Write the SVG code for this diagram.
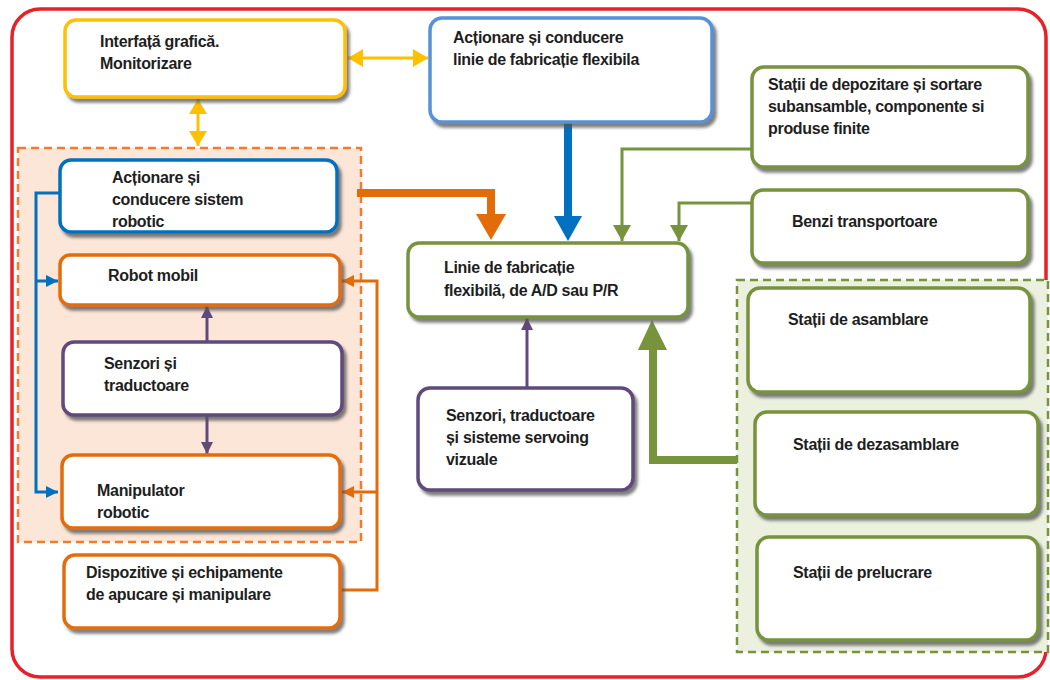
<svg xmlns="http://www.w3.org/2000/svg" width="1050" height="680" viewBox="0 0 1050 680">
  <defs>
    <filter id="shadow" x="-10%" y="-10%" width="130%" height="140%">
      <feDropShadow dx="3" dy="4" stdDeviation="1.6" flood-color="#555" flood-opacity="0.75"/>
    </filter>
    <marker id="ah-blue" markerUnits="userSpaceOnUse" markerWidth="14" markerHeight="12" refX="12" refY="6" orient="auto">
      <path d="M0,0 L12,6 L0,12 Z" fill="#0070C0"/>
    </marker>
    <marker id="ah-orange" markerUnits="userSpaceOnUse" markerWidth="14" markerHeight="12" refX="12" refY="6" orient="auto">
      <path d="M0,0 L12,6 L0,12 Z" fill="#E36C0A"/>
    </marker>
    <marker id="ah-purple" markerUnits="userSpaceOnUse" markerWidth="14" markerHeight="12" refX="12" refY="6" orient="auto">
      <path d="M0,0 L12,6 L0,12 Z" fill="#604A7B"/>
    </marker>
    <marker id="ah-green" markerUnits="userSpaceOnUse" markerWidth="18" markerHeight="18" refX="16" refY="9" orient="auto">
      <path d="M0,0 L16,9 L0,18 Z" fill="#77933C"/>
    </marker>
    <marker id="ah-yellow" markerUnits="userSpaceOnUse" markerWidth="18" markerHeight="18" refX="15" refY="9" orient="auto-start-reverse">
      <path d="M0,0 L15,9 L0,18 Z" fill="#FFC000"/>
    </marker>
    <style>
      .box { fill: #ffffff; stroke-width: 3.5; filter: url(#shadow); }
      .yellow { stroke: #FFC000; }
      .blue { stroke: #0070C0; }
      .lblue { stroke: #5592D8; }
      .orange { stroke: #E36C0A; }
      .purple { stroke: #604A7B; }
      .green { stroke: #77933C; }
      .lbl { font-family: "Liberation Sans", Arial, sans-serif; font-weight: bold; font-size: 16px; fill: #1e1e1e; letter-spacing: -0.3px; }
      .wire { fill: none; stroke-width: 3; }
      .thick { fill: none; stroke-width: 8; }
    </style>
  </defs>

  <rect width="1050" height="680" fill="#ffffff"/>

  <!-- outer frame -->
  <rect x="12" y="9" width="1034" height="668" rx="28" fill="none" stroke="#E8202A" stroke-width="3.5"/>

  <!-- group backgrounds -->
  <rect id="group-robot" x="18" y="148" width="343" height="394" fill="#FCE6D8" stroke="#EE7D31" stroke-width="2.5" stroke-dasharray="8,5"/>
  <rect id="group-statii" x="737" y="280" width="311" height="372" fill="#EBF1DE" stroke="#77933C" stroke-width="2.5" stroke-dasharray="8,5"/>

  <!-- connectors -->
  <g id="connectors">
    <path class="wire" stroke="#FFC000" stroke-width="3.5" d="M348,58 H428" marker-start="url(#ah-yellow)" marker-end="url(#ah-yellow)"/>
    <path class="wire" stroke="#FFC000" stroke-width="3.5" d="M198,99 V146" marker-start="url(#ah-yellow)" marker-end="url(#ah-yellow)"/>

    <path class="wire" stroke="#0070C0" d="M60,193 H36 V492 H58" marker-end="url(#ah-blue)"/>
    <path class="wire" stroke="#0070C0" d="M36,281 H58" marker-end="url(#ah-blue)"/>

    <path class="wire" stroke="#E36C0A" d="M340,590 H377 V281 H342" marker-end="url(#ah-orange)"/>
    <path class="wire" stroke="#E36C0A" d="M377,492 H342" marker-end="url(#ah-orange)"/>

    <path class="wire" stroke="#604A7B" d="M207,342 V306" marker-end="url(#ah-purple)"/>
    <path class="wire" stroke="#604A7B" d="M207,415 V454" marker-end="url(#ah-purple)"/>
    <path class="wire" stroke="#604A7B" d="M527,388 V318" marker-end="url(#ah-purple)"/>

    <path class="wire" stroke="#77933C" stroke-width="4.5" d="M752,149 H622 V241" marker-end="url(#ah-green)"/>
    <path class="wire" stroke="#77933C" stroke-width="4.5" d="M752,203 H679 V241" marker-end="url(#ah-green)"/>

    <path class="thick" stroke="#E36C0A" d="M357,193 H491 V216"/>
    <polygon points="476,214 506,214 491,240" fill="#E36C0A"/>

    <path class="thick" stroke="#0070C0" d="M568,122 V218"/>
    <polygon points="554,216 582,216 568,241" fill="#0070C0"/>

    <path class="thick" stroke="#77933C" d="M737,460 H653 V348"/>
    <polygon points="638,350 667,350 652,320" fill="#77933C"/>
  </g>

  <!-- nodes -->
  <g id="node-interfata">
    <rect class="box yellow" x="65" y="20" width="280" height="77" rx="11"/>
    <text class="lbl" x="100" y="47">Interfață grafică.</text>
    <text class="lbl" x="100" y="69">Monitorizare</text>
  </g>

  <g id="node-actionare-linie">
    <rect class="box lblue" x="430" y="18" width="282" height="104" rx="12"/>
    <text class="lbl" x="453" y="43">Acționare și conducere</text>
    <text class="lbl" x="453" y="65">linie de fabricație flexibila</text>
  </g>

  <g id="node-actionare-robot">
    <rect class="box blue" x="60" y="160" width="277" height="72" rx="11"/>
    <text class="lbl" x="112" y="183">Acționare și</text>
    <text class="lbl" x="112" y="205">conducere sistem</text>
    <text class="lbl" x="112" y="227">robotic</text>
  </g>

  <g id="node-robot-mobil">
    <rect class="box orange" x="60" y="255" width="280" height="50" rx="10"/>
    <text class="lbl" x="108" y="281">Robot mobil</text>
  </g>

  <g id="node-senzori">
    <rect class="box purple" x="63" y="342" width="279" height="73" rx="11"/>
    <text class="lbl" x="104" y="369">Senzori și</text>
    <text class="lbl" x="104" y="391">traductoare</text>
  </g>

  <g id="node-manipulator">
    <rect class="box orange" x="62" y="455" width="278" height="73" rx="11"/>
    <text class="lbl" x="97" y="496">Manipulator</text>
    <text class="lbl" x="97" y="518">robotic</text>
  </g>

  <g id="node-dispozitive">
    <rect class="box orange" x="64" y="555" width="276" height="73" rx="11"/>
    <text class="lbl" x="86" y="578">Dispozitive și echipamente</text>
    <text class="lbl" x="86" y="600">de apucare și manipulare</text>
  </g>

  <g id="node-linie">
    <rect class="box green" x="408" y="243" width="280" height="74" rx="11"/>
    <text class="lbl" x="444" y="273">Linie de fabricație</text>
    <text class="lbl" x="444" y="296">flexibilă, de A/D sau P/R</text>
  </g>

  <g id="node-senzori-vizuale">
    <rect class="box purple" x="418" y="388" width="215" height="102" rx="12"/>
    <text class="lbl" x="446" y="421">Senzori, traductoare</text>
    <text class="lbl" x="446" y="443">și sisteme servoing</text>
    <text class="lbl" x="446" y="465">vizuale</text>
  </g>

  <g id="node-depozitare">
    <rect class="box green" x="752" y="67" width="276" height="100" rx="12"/>
    <text class="lbl" x="768" y="90">Stații de depozitare și sortare</text>
    <text class="lbl" x="768" y="112">subansamble, componente si</text>
    <text class="lbl" x="768" y="134">produse finite</text>
  </g>

  <g id="node-benzi">
    <rect class="box green" x="752" y="190" width="276" height="73" rx="11"/>
    <text class="lbl" x="792" y="227">Benzi transportoare</text>
  </g>

  <g id="node-asamblare">
    <rect class="box green" x="748" y="288" width="282" height="104" rx="12"/>
    <text class="lbl" x="788" y="325">Stații de asamblare</text>
  </g>

  <g id="node-dezasamblare">
    <rect class="box green" x="755" y="412" width="283" height="103" rx="12"/>
    <text class="lbl" x="793" y="450">Stații de dezasamblare</text>
  </g>

  <g id="node-prelucrare">
    <rect class="box green" x="757" y="537" width="281" height="103" rx="12"/>
    <text class="lbl" x="793" y="578">Stații de prelucrare</text>
  </g>
</svg>
